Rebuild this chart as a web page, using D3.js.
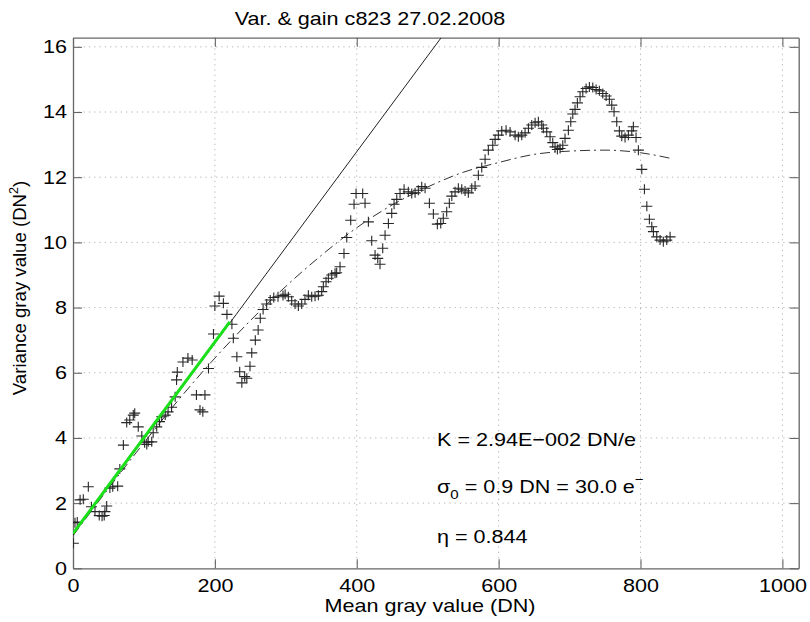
<!DOCTYPE html>
<html>
<head>
<meta charset="utf-8">
<script src="https://cdn.jsdelivr.net/npm/d3@7"></script>
<style>
  body { margin: 0; background: #fff; }
  text { font-family: "Liberation Sans", Arial, sans-serif; fill: #000; }
</style>
</head>
<body>
<svg width="810" height="622"></svg>
<script>
const meanDN = [0.5, 2.8, 6, 10, 14.5, 21.6, 26, 31, 37, 41, 44, 45, 47.5, 52, 56, 63, 66, 71, 75.7, 80,
  85, 87, 92, 97, 101, 104, 106, 111, 113, 118, 122, 125, 130, 134, 139, 144, 146, 147, 155, 162,
  168, 174, 179, 183, 186, 191, 198, 200, 206, 212, 217, 224, 226, 231, 235, 238, 242, 245, 249.5, 252,
  257, 261, 264, 268, 273, 278, 283, 289, 296, 299, 303.6, 308.3, 313, 317.7, 322.4, 327, 331.8, 336.5, 341.2, 345.9,
  350.6, 352.9, 356.7, 360, 364.7, 369.4, 371.7, 376.4, 382, 385.9, 391.5, 396.2, 399, 408.4, 411.7, 416.4, 421.1, 425.8, 429.6, 432.8,
  436.6, 439.9, 444.6, 449.3, 452.6, 456.4, 461, 466.7, 472.7, 477.5, 482.2, 486.8, 491.6, 496.3, 502.4, 508, 513.6, 518.4, 522, 526.8,
  530.5, 534, 538.6, 543.2, 548, 552.7, 557.3, 562.1, 566.8, 571.4, 576.2, 580.9, 585.5, 591.7, 595, 599.6, 604.4, 610.5, 616.1, 623.2,
  627.8, 632.6, 637.3, 642, 646.7, 651.4, 656, 660.8, 663, 667.8, 672.5, 676.3, 679.5, 682.8, 686.6, 690.4, 693.6, 698.3, 701.7, 704.5,
  707.7, 711, 714.8, 718.6, 723.3, 727.9, 732.7, 737.4, 742, 746.8, 751.5, 756.1, 759.5, 762.7, 766.5, 770.2, 773.6, 778.2, 782.9, 787.7,
  789.9, 793.7, 797, 801.8, 805.5, 808.9, 812.5, 815.9, 818.2, 822.9, 827.6, 832.2, 837, 841.7];
const varDN = [0.77, 1.40, 1.42, 2.10, 2.12, 2.50, 1.89, 1.74, 1.62, 1.60, 1.62, 1.74, 1.91, 2.46, 2.50, 2.52, 3.05, 3.78, 4.47, 4.55,
  4.70, 4.76, 4.34, 4.06, 3.85, 3.80, 3.88, 3.88, 4.16, 4.34, 4.50, 4.65, 4.70, 4.80, 4.94, 5.26, 5.78, 6.02, 6.33, 6.45,
  6.39, 5.32, 4.86, 4.80, 5.32, 6.13, 7.19, 8.05, 8.35, 8.13, 7.79, 7.49, 7.06, 6.49, 6.03, 5.69, 5.88, 5.83, 6.20, 6.61,
  7.00, 7.31, 7.67, 7.94, 8.11, 8.23, 8.31, 8.33, 8.37, 8.41, 8.33, 8.21, 8.11, 8.05, 8.11, 8.25, 8.38, 8.33, 8.35, 8.38,
  8.49, 8.64, 8.79, 8.90, 9.00, 9.05, 9.07, 9.25, 9.66, 10.15, 10.68, 11.17, 11.50, 11.50, 11.20, 10.63, 10.05, 9.61, 9.51, 9.33,
  9.82, 10.22, 10.58, 10.89, 11.17, 11.32, 11.50, 11.63, 11.55, 11.50, 11.52, 11.60, 11.71, 11.66, 11.20, 10.87, 10.56, 10.58, 10.74, 10.94,
  11.20, 11.42, 11.55, 11.66, 11.63, 11.58, 11.52, 11.66, 11.73, 12.06, 12.30, 12.55, 12.83, 12.98, 13.16, 13.29, 13.42, 13.44, 13.39, 13.29,
  13.24, 13.29, 13.36, 13.50, 13.60, 13.67, 13.70, 13.60, 13.50, 13.39, 13.24, 13.06, 12.93, 12.85, 12.88, 12.98, 13.19, 13.44, 13.70, 13.94,
  14.08, 14.28, 14.47, 14.62, 14.72, 14.77, 14.75, 14.69, 14.65, 14.57, 14.49, 14.39, 14.21, 14.01, 13.70, 13.42, 13.26, 13.22, 13.29, 13.42,
  13.55, 13.22, 12.83, 12.24, 11.63, 11.11, 10.71, 10.48, 10.33, 10.17, 10.07, 10.02, 10.07, 10.17];

// dash-dot fit curve
const fitMean = [0, 50, 100, 150, 200, 250, 300, 350, 400, 450, 500, 550, 600, 650, 700, 750, 800, 842];
const fitVar = [1.0, 2.45, 3.85, 5.2, 6.45, 7.6, 8.65, 9.6, 10.45, 11.15, 11.7, 12.15, 12.45, 12.7, 12.8, 12.83, 12.75, 12.58];

// gain line (black) and fitted range (green)
const gainMean = [0, 519];
const gainVar = [1.03, 16.28];
const fitRangeMean = [0, 221];
const fitRangeVar = [1.07, 7.56];

const xTicks = [0, 200, 400, 600, 800, 1000];
const yTicks = [0, 2, 4, 6, 8, 10, 12, 14, 16];

const titleText = 'Var. & gain c823 27.02.2008';
const xLabel = 'Mean gray value (DN)';

const margin = { left: 73, right: 11.3, top: 37.7, bottom: 53.7 };
const svg = d3.select('svg');
const width = +svg.attr('width');
const height = +svg.attr('height');
const innerWidth = width - margin.left - margin.right;
const innerHeight = height - margin.top - margin.bottom;
const stretch = 1.16;   // the picture's glyphs are wider than they are tall
const fs = 18.6;

// widen a plain text by stretching its glyphs
const widen = sel => sel.each(function () {
  const w = this.getComputedTextLength();
  if (w > 0) d3.select(this).attr('textLength', w * stretch).attr('lengthAdjust', 'spacingAndGlyphs');
});

const xScale = d3.scaleLinear().domain([0, 1023]).range([0, innerWidth]);
const yScale = d3.scaleLinear().domain([0, 16.28]).range([innerHeight, 0]);

const g = svg.append('g').attr('transform', `translate(${margin.left},${margin.top})`);

svg.append('defs').append('clipPath').attr('id', 'plot')
  .append('rect').attr('width', innerWidth).attr('height', innerHeight);

// grid
g.selectAll('.gx').data(xTicks.slice(1)).enter().append('line')
  .attr('x1', d => xScale(d)).attr('x2', d => xScale(d))
  .attr('y1', 0).attr('y2', innerHeight)
  .attr('stroke', '#b8b8b8').attr('stroke-width', 1).attr('stroke-dasharray', '1.3,4');
g.selectAll('.gy').data(yTicks.slice(1)).enter().append('line')
  .attr('y1', d => yScale(d)).attr('y2', d => yScale(d))
  .attr('x1', 0).attr('x2', innerWidth)
  .attr('stroke', '#b8b8b8').attr('stroke-width', 1).attr('stroke-dasharray', '1.3,4');

// axes with inward ticks on all four sides
const styleAxis = sel => {
  sel.selectAll('.domain').attr('stroke', '#666').attr('stroke-width', 1.3);
  sel.selectAll('.tick line').attr('stroke', '#666').attr('stroke-width', 1.1);
  sel.selectAll('text').attr('font-size', fs).attr('fill', '#000')
    .attr('font-family', '"Liberation Sans", Arial, sans-serif')
    .call(widen);
};
g.append('g').attr('transform', `translate(0,${innerHeight})`)
  .call(d3.axisBottom(xScale).tickValues(xTicks).tickFormat(d3.format('d'))
    .tickSize(-9).tickPadding(10).tickSizeOuter(0))
  .call(styleAxis);
g.append('g')
  .call(d3.axisLeft(yScale).tickValues(yTicks).tickFormat(d3.format('d'))
    .tickSize(-9).tickPadding(6).tickSizeOuter(0))
  .call(styleAxis);
// mirrored ticks, no labels
g.append('g')
  .call(d3.axisTop(xScale).tickValues(xTicks).tickSize(-9).tickSizeOuter(0))
  .call(styleAxis)
  .selectAll('text').remove();
g.append('g').attr('transform', `translate(${innerWidth},0)`)
  .call(d3.axisRight(yScale).tickValues(yTicks).tickSize(-9).tickSizeOuter(0))
  .call(styleAxis)
  .selectAll('text').remove();

const plot = g.append('g').attr('clip-path', 'url(#plot)');
const line = d3.line().x(d => xScale(d[0])).y(d => yScale(d[1]));

// fitted curve
plot.append('path')
  .attr('d', d3.line().x(d => xScale(d[0])).y(d => yScale(d[1])).curve(d3.curveMonotoneX)(d3.zip(fitMean, fitVar)))
  .attr('fill', 'none').attr('stroke', '#333').attr('stroke-width', 1)
  .attr('stroke-dasharray', '10,4,2,4');

// gain line
plot.append('path')
  .attr('d', line(d3.zip(gainMean, gainVar)))
  .attr('fill', 'none').attr('stroke', '#222').attr('stroke-width', 1);

// markers
const pts = d3.zip(meanDN, varDN);
plot.selectAll('.pt').data(pts).enter().append('path')
  .attr('transform', d => `translate(${xScale(d[0])},${yScale(d[1])})`)
  .attr('d', 'M-5.5,0H5.5M0,-5V5')
  .attr('stroke', '#262626').attr('stroke-width', 1.1).attr('fill', 'none');

// green fit range
plot.append('path')
  .attr('d', line(d3.zip(fitRangeMean, fitRangeVar)))
  .attr('fill', 'none').attr('stroke', '#19e019').attr('stroke-width', 3);

// texts
const plain = (x, y, anchor, str) => svg.append('text')
  .attr('x', x).attr('y', y).attr('text-anchor', anchor).attr('font-size', fs)
  .text(str).call(widen);
const rich = (x, y, anchor, rot) => svg.append('text')
  .attr('transform', `translate(${x},${y}) scale(${stretch},1)` + (rot ? ` rotate(${rot})` : ''))
  .attr('text-anchor', anchor).attr('font-size', fs);

plain(370, 25, 'middle', titleText);
plain(430, 612, 'middle', xLabel);

const yl = svg.append('text')
  .attr('transform', 'translate(26,288) rotate(-90)')
  .attr('text-anchor', 'middle').attr('font-size', fs);
yl.append('tspan').text('Variance gray value (DN');
yl.append('tspan').attr('font-size', 12.5).attr('dy', -8).text('2');
yl.append('tspan').attr('dy', 8).text(')');

plain(437, 446, 'start', 'K =  2.94E\u2212002 DN/e');

const sg = rich(437, 493, 'start');
sg.append('tspan').text('\u03c3');
sg.append('tspan').attr('font-size', 13).attr('dy', 6).text('0');
sg.append('tspan').attr('dy', -6).text(' = 0.9 DN = 30.0 e');
sg.append('tspan').attr('font-size', 13).attr('dy', -9).text('\u2212');

plain(437, 543, 'start', '\u03b7 = 0.844');
</script>
</body>
</html>
